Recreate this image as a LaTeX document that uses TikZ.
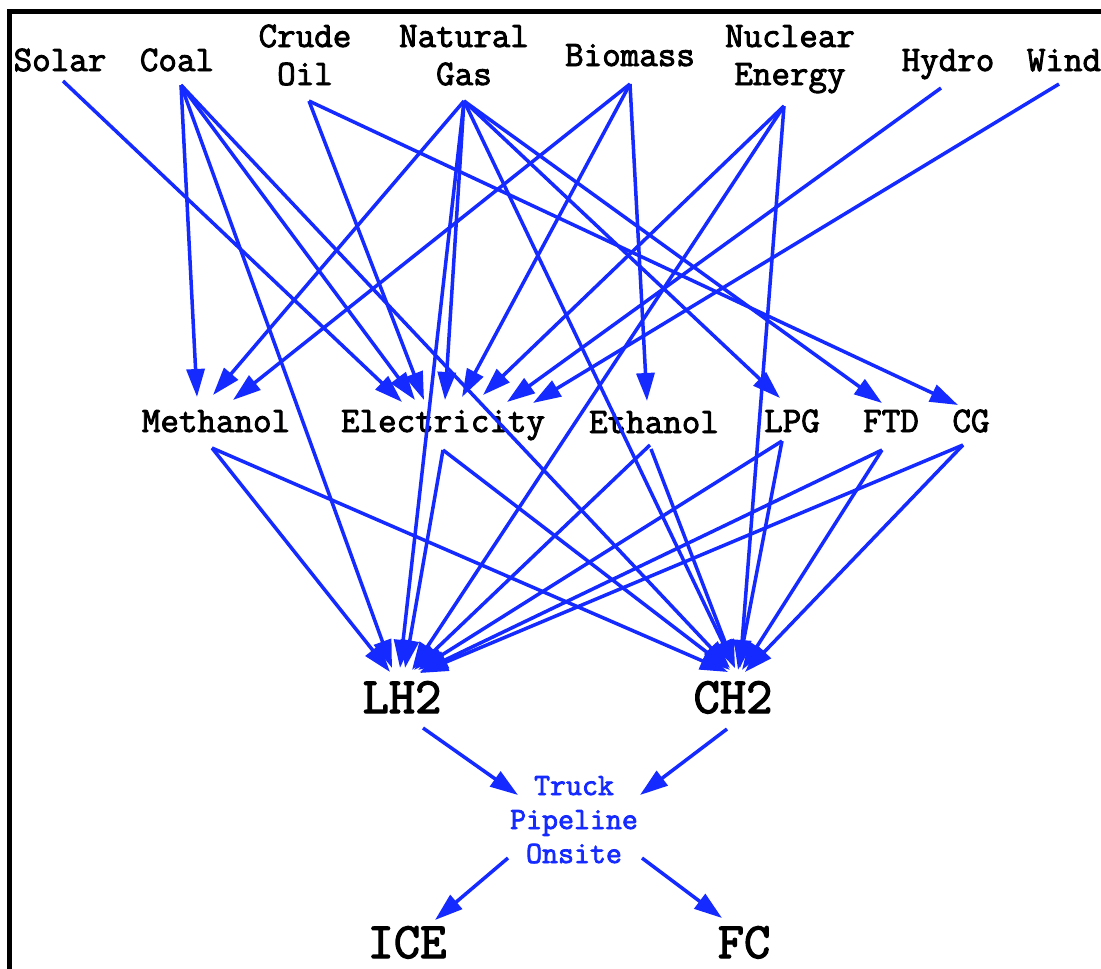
\documentclass[tikz,border=0pt]{standalone}
\usepackage{fontspec}
\newfontfamily\monob{Latin Modern Mono}[FakeBold=2.5]
\usetikzlibrary{arrows.meta}
\definecolor{eblue}{RGB}{20,42,255}
\begin{document}
\begin{tikzpicture}[x=1pt,y=-1pt,
  lbl/.style={font=\fontsize{36}{38}\selectfont\monob, inner sep=0pt, anchor=base},
  big/.style={font=\fontsize{51}{60}\selectfont\monob, inner sep=0pt, anchor=base},
  via/.style={font=\fontsize{31}{34}\selectfont\monob, text=eblue, inner sep=0pt, anchor=base},
  arr/.style={draw=eblue, line width=3.5pt, -{Triangle[length=28pt,width=18pt]}}]
\useasboundingbox (0,0) rectangle (1101,969);
\clip (0,0) rectangle (1101,969);
\draw[line width=5pt] (9.5,990) -- (9.5,11) -- (1120,11);

% sources
\node[lbl] (solar) at (60,71) {Solar};
\node[lbl] (coal) at (177,71) {Coal};
\node[lbl] (oil) at (305,85) {\begin{tabular}[b]{@{}c@{}}Crude\\Oil\end{tabular}};
\node[lbl] (gas) at (464,85) {\begin{tabular}[b]{@{}c@{}}Natural\\Gas\end{tabular}};
\node[lbl] (bio) at (630,66) {Biomass};
\node[lbl] (nuc) at (790,85) {\begin{tabular}[b]{@{}c@{}}Nuclear\\Energy\end{tabular}};
\node[lbl] (hydro) at (948,71) {Hydro};
\node[lbl] (wind) at (1064,71) {Wind};
% carriers
\node[lbl] (meth) at (216,432) {Methanol};
\node[lbl] (elec) at (443,432) {Electricity};
\node[lbl] (eth) at (654,433) {Ethanol};
\node[lbl] (lpg) at (792,432) {LPG};
\node[lbl] (ftd) at (891,432) {FTD};
\node[lbl] (cg) at (971,432) {CG};
% hydrogen
\node[big] (lh2) at (402,713) {LH2};
\node[big] (ch2) at (733,713) {CH2};
\node[via] (tpo) at (574,863) {\begin{tabular}[b]{@{}c@{}}Truck\\Pipeline\\Onsite\end{tabular}};
\node[big] (ice) at (407,958) {ICE};
\node[big] (fc) at (744,958) {FC};

% primary -> carriers
\draw[arr] ([shift={(3,10)}]solar.base) -- ([shift={(-41,-30)}]elec.base);
\draw[arr] ([shift={(4,14)}]coal.base) -- ([shift={(-19,-35)}]meth.base);
\draw[arr] ([shift={(4,14)}]coal.base) -- ([shift={(-10,-45)}]lh2.base);
\draw[arr] ([shift={(4,14)}]coal.base) -- ([shift={(-28,-32)}]elec.base);
\draw[arr] ([shift={(4,14)}]coal.base) -- ([shift={(-3,-45)}]ch2.base);
\draw[arr] ([shift={(4,16)}]oil.base) -- ([shift={(-19,-32)}]elec.base);
\draw[arr] ([shift={(4,16)}]oil.base) -- ([shift={(-13,-27)}]cg.base);
\draw[arr] ([shift={(0,16)}]gas.base) -- ([shift={(-3,-37)}]meth.base);
\draw[arr] ([shift={(0,16)}]gas.base) -- ([shift={(2,-32)}]elec.base);
\draw[arr] ([shift={(0,16)}]gas.base) -- ([shift={(-2,-45)}]lh2.base);
\draw[arr] ([shift={(0,16)}]gas.base) -- ([shift={(2,-45)}]ch2.base);
\draw[arr] ([shift={(0,16)}]gas.base) -- ([shift={(-12,-34)}]lpg.base);
\draw[arr] ([shift={(0,16)}]gas.base) -- ([shift={(-9,-29)}]ftd.base);
\draw[arr] ([shift={(0,18)}]bio.base) -- ([shift={(17,-32)}]meth.base);
\draw[arr] ([shift={(0,18)}]bio.base) -- ([shift={(19,-35)}]elec.base);
\draw[arr] ([shift={(0,18)}]bio.base) -- ([shift={(-7,-32)}]eth.base);
\draw[arr] ([shift={(-6,21)}]nuc.base) -- ([shift={(40,-37)}]elec.base);
\draw[arr] ([shift={(-6,21)}]nuc.base) -- ([shift={(10,-43)}]lh2.base);
\draw[arr] ([shift={(-6,21)}]nuc.base) -- ([shift={(7,-45)}]ch2.base);
\draw[arr] ([shift={(-7,17)}]hydro.base) -- ([shift={(64,-30)}]elec.base);
\draw[arr] ([shift={(-5,13)}]wind.base) -- ([shift={(90,-29)}]elec.base);

% carriers -> hydrogen
\draw[arr] ([shift={(-4,16)}]meth.base) -- ([shift={(-12,-41)}]lh2.base);
\draw[arr] ([shift={(-4,16)}]meth.base) -- ([shift={(-5,-41)}]ch2.base);
\draw[arr] ([shift={(0,18)}]elec.base) -- ([shift={(3,-45)}]lh2.base);
\draw[arr] ([shift={(0,18)}]elec.base) -- ([shift={(-3,-43)}]ch2.base);
\draw[arr] ([shift={(-4,12)}]eth.base) -- ([shift={(12,-43)}]lh2.base);
\draw[arr] ([shift={(-3,16)}]eth.base) -- ([shift={(2,-45)}]ch2.base);
\draw[arr] ([shift={(-10,9)}]lpg.base) -- ([shift={(16,-43)}]lh2.base);
\draw[arr] ([shift={(-10,9)}]lpg.base) -- ([shift={(5,-43)}]ch2.base);
\draw[arr] ([shift={(-9,18)}]ftd.base) -- ([shift={(18,-41)}]lh2.base);
\draw[arr] ([shift={(-9,18)}]ftd.base) -- ([shift={(9,-43)}]ch2.base);
\draw[arr] ([shift={(-8,13)}]cg.base) -- ([shift={(18,-40)}]lh2.base);
\draw[arr] ([shift={(-8,13)}]cg.base) -- ([shift={(12,-41)}]ch2.base);

% hydrogen -> delivery -> use
\draw[arr] ([shift={(21,15)}]lh2.base) -- ([shift={(-56,-68)}]tpo.base);
\draw[arr] ([shift={(-6,16)}]ch2.base) -- ([shift={(66,-68)}]tpo.base);
\draw[arr] ([shift={(-66,-5)}]tpo.base) -- ([shift={(28,-38)}]ice.base);
\draw[arr] ([shift={(68,-5)}]tpo.base) -- ([shift={(-22,-40)}]fc.base);
\end{tikzpicture}
\end{document}
